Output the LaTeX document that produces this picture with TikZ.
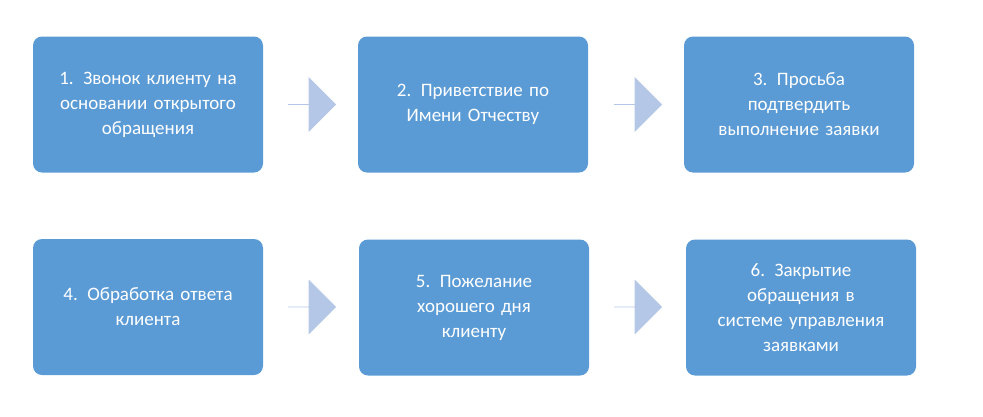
\documentclass[tikz,border=0pt]{standalone}
\usepackage{fontspec}
\setmainfont{Carlito}
\usetikzlibrary{shapes.arrows}
\definecolor{boxc}{HTML}{5B9BD5}
\definecolor{arrc}{HTML}{B4C7E7}
\begin{document}
\begin{tikzpicture}[x=1pt,y=-1pt,
  stepbox/.style={fill=boxc,draw=none,rounded corners=9pt,minimum width=230pt,minimum height=136pt,text width=200pt,align=center,text=white,font=\fontsize{19pt}{25pt}\selectfont,inner sep=0pt},
  arr/.style={single arrow,fill=arrc,draw=none,minimum height=48pt,minimum width=55pt,single arrow head extend=13.5pt,inner sep=0pt}]
\useasboundingbox (0,0) rectangle (983,416);
\node[stepbox] (b1) at (148,104.5) {1. Звонок клиенту на\\ основании открытого\\ обращения};
\node[stepbox] (b2) at (473,104.5) {2. Приветствие по\\ Имени Отчеству};
\node[stepbox] (b3) at (799,104.5) {3. Просьба\\ подтвердить\\ выполнение заявки};
\node[stepbox] (b4) at (148,307) {4. Обработка ответа\\ клиента};
\node[stepbox] (b5) at (474,307.5) {5. Пожелание\\ хорошего дня\\ клиенту};
\node[stepbox] (b6) at (801,307.5) {6. Закрытие\\ обращения в\\ системе управления\\ заявками};
\node[arr] (a1) at (312,104.5) {};
\node[arr] (a2) at (638,104.5) {};
\node[arr] (a3) at (312,307) {};
\node[arr] (a4) at (638,307) {};
\end{tikzpicture}
\end{document}
